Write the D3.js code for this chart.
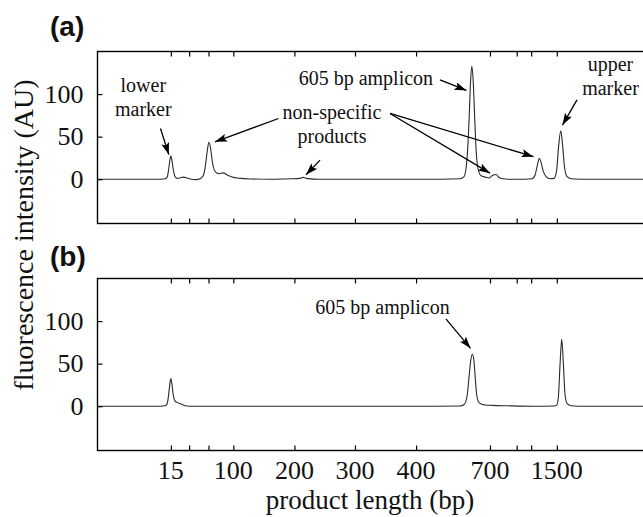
<!DOCTYPE html>
<html><head><meta charset="utf-8">
<script src="https://cdn.jsdelivr.net/npm/d3@7"></script>
<style>
html,body{margin:0;padding:0;background:#fff;}
svg{display:block;}
</style></head>
<body>
<svg id="chart" width="643" height="517"></svg>
<script>
// ---- data ----
const tickTimes  = [33.45, 36.8, 40.35, 44.9, 56.1, 67.2, 78.4, 91.95, 96.85, 99.5, 104.2];
const tickLabels = ["15", "", "", "100", "200", "300", "400", "700", "", "", "1500"];
const yTicks = [0, 50, 100];

const timesA  = [20, 24, 29.7, 31.5, 32.4, 32.8, 33.05, 33.3, 33.45, 33.6, 33.87, 34.24, 34.6, 35.15, 35.7, 36.44, 37.17, 38.09, 38.82, 39.37, 39.74, 40.1, 40.41, 40.74, 41.02, 41.57, 42.3, 43.03, 43.77, 44.68, 46.15, 47.98, 51.65, 55.31, 57.14, 57.75, 58.24, 60.81, 66.3, 75.5, 82.8, 86.47, 87.2, 87.75, 88.12, 88.39, 88.61, 88.85, 89.13, 89.4, 89.77, 90.32, 91.05, 91.78, 92.33, 93.07, 93.62, 94.35, 95.27, 96.55, 98.38, 99.67, 100.22, 100.58, 101.0, 101.31, 101.68, 102.23, 102.96, 103.7, 104.16, 104.52, 104.93, 105.26, 105.62, 106.08, 106.81, 108.46, 112.12, 120];
const valuesA = [0, 0, 0, 0, 0.5, 3, 12, 24, 27.5, 24, 12, 3, 1, 1.5, 2.5, 1.5, 0, -0.5, 0.5, 4, 14, 32, 43.5, 36, 22, 9, 6.5, 7.5, 5, 2.5, 1, 0.3, 0, 0.5, 1, 2.2, 1, 0, 0, 0, 0, 0.5, 3, 25, 70, 115, 132.5, 118, 75, 35, 12, 4, 2.5, 1.5, 4, 5.5, 2, 0.5, 0, 0, 0, 0.5, 5, 15, 24.5, 20, 10, 3, 0.5, 1, 10, 38, 57, 40, 14, 3, 0.5, 0, 0, 0];

const timesB  = [20, 29.7, 31.5, 32.4, 32.77, 33.05, 33.32, 33.45, 33.6, 33.87, 34.24, 34.6, 35.15, 35.7, 36.44, 37.17, 44, 60, 80, 86.47, 87.2, 87.75, 88.12, 88.45, 88.72, 88.98, 89.25, 89.5, 89.85, 90.32, 91.05, 92.33, 95.27, 100, 103.7, 104.16, 104.5, 104.8, 105.1, 105.4, 105.7, 106.1, 106.8, 108, 120];
const valuesB = [0, 0, 0, 0.5, 3, 14, 29, 32.5, 28, 14, 6, 4.5, 3, 1.5, 0.3, 0, 0, 0, 0, 0.3, 2, 12, 35, 55, 61, 55, 33, 14, 5, 2.5, 1.5, 1, 0.5, 0, 0.3, 1, 12, 50, 78.5, 50, 14, 3, 0.5, 0, 0];

// annotations (data coordinates: t = migration time, v = intensity)
const notesA = [
  {lines: ["lower", "marker"], t: 28.4, v: 102.5},
  {lines: ["605 bp amplicon"], t: 69.2, v: 110.8},
  {lines: ["non-specific", "products"], t: 62.99, v: 71.3},
  {lines: ["upper", "marker"], t: 114.04, v: 126.7}
];
const arrowsA = [
  {t0: 31.55, v0: 59.5, t1: 33.07, v1: 28.9},
  {t0: 53.18, v0: 71.3, t1: 41.54, v1: 43.9},
  {t0: 60.79, v0: 22.4, t1: 58.22, v1: 5.3},
  {t0: 82.78, v0: 116.6, t1: 87.64, v1: 104.3},
  {t0: 73.62, v0: 77.2, t1: 91.95, v1: 7.1},
  {t0: 73.62, v0: 77.2, t1: 99.93, v1: 26.5},
  {t0: 107.9, v0: 93.1, t1: 105.24, v1: 63.6}
];
const notesB = [
  {lines: ["605 bp amplicon"], t: 72.25, v: 108.3}
];
const arrowsB = [
  {t0: 83.87, v0: 102.5, t1: 88.38, v1: 68}
];

// ---- drawing ----
const SERIF = '"Liberation Serif"';
const SANS = '"Liberation Sans"';
const svg = d3.select("#chart");
const left = 97.5, right = 643;
const x = d3.scaleLinear().domain([20, 120]).range([left, right]);

const defs = svg.append("defs");
defs.append("marker").attr("id", "ah")
  .attr("viewBox", "0 0 12 8").attr("refX", 12).attr("refY", 4)
  .attr("markerWidth", 12).attr("markerHeight", 8)
  .attr("markerUnits", "userSpaceOnUse").attr("orient", "auto")
  .append("path").attr("d", "M0,0 L12,4 L0,8 L2.5,4 Z").attr("fill", "#000");

function panel(top, bottom, times, values, notes, arrows, label, labelY, showX) {
  const y = d3.scaleLinear().domain([-52, 150]).range([bottom, top]);
  const g = svg.append("g");

  const line = d3.line().x((d, i) => x(times[i])).y(d => y(d)).curve(d3.curveMonotoneX);
  g.append("path").datum(values).attr("d", line)
    .attr("fill", "none").attr("stroke", "#2a2a2a").attr("stroke-width", 1.1);

  g.append("rect").attr("x", left).attr("y", top)
    .attr("width", 650 - left).attr("height", bottom - top)
    .attr("fill", "none").attr("stroke", "#000").attr("stroke-width", 1.4);

  const xb = d3.axisBottom(x).tickValues(tickTimes).tickSize(-5).tickFormat("");
  g.append("g").attr("transform", `translate(0,${bottom})`).call(xb)
    .call(s => { s.select(".domain").remove(); s.selectAll("text").remove(); s.selectAll("line").attr("stroke-width", 1.2); });
  const xt = d3.axisTop(x).tickValues(tickTimes).tickSize(-5).tickFormat("");
  g.append("g").attr("transform", `translate(0,${top})`).call(xt)
    .call(s => { s.select(".domain").remove(); s.selectAll("text").remove(); s.selectAll("line").attr("stroke-width", 1.2); });

  if (showX) {
    g.append("g").selectAll("text").data(tickTimes.filter((d, i) => tickLabels[i] !== "")).join("text")
      .attr("x", d => x(d)).attr("y", 478.5).attr("text-anchor", "middle")
      .style("font-family", SERIF).style("font-size", "26px").attr("fill", "#111")
      .text(d => tickLabels[tickTimes.indexOf(d)]);
  }

  const ya = d3.axisLeft(y).tickValues(yTicks).tickSize(-5).tickPadding(14).tickFormat(d3.format("d"));
  g.append("g").attr("transform", `translate(${left},0)`).call(ya)
    .call(s => {
      s.select(".domain").remove();
      s.selectAll("line").attr("stroke-width", 1.2);
      s.selectAll("text").style("font-family", SERIF).style("font-size", "26px").attr("fill", "#111");
    });

  g.append("g").selectAll("line").data(arrows).join("line")
    .attr("x1", d => x(d.t0)).attr("y1", d => y(d.v0))
    .attr("x2", d => x(d.t1)).attr("y2", d => y(d.v1))
    .attr("stroke", "#000").attr("stroke-width", 1.3).attr("marker-end", "url(#ah)");

  notes.forEach(n => {
    const t = g.append("text").style("font-family", SERIF).style("font-size", "20px")
      .attr("fill", "#111").attr("text-anchor", "middle");
    n.lines.forEach((l, i) => {
      t.append("tspan").attr("x", x(n.t)).attr("y", y(n.v) + i * 24).text(l);
    });
  });

  svg.append("text").attr("x", 50).attr("y", labelY)
    .style("font-family", SANS).style("font-weight", "bold")
    .style("font-size", "28px").attr("fill", "#111").text(label);
}

panel(51.5, 223.5, timesA, valuesA, notesA, arrowsA, "(a)", 36, false);
panel(278.5, 450.5, timesB, valuesB, notesB, arrowsB, "(b)", 266, true);

svg.append("text").attr("transform", "translate(33,235) rotate(-90)")
  .attr("text-anchor", "middle").style("font-family", SERIF).style("font-size", "28px")
  .attr("fill", "#111").text("fluorescence intensity (AU)");
svg.append("text").attr("x", 370).attr("y", 508.5).attr("text-anchor", "middle")
  .style("font-family", SERIF).style("font-size", "27px").attr("fill", "#111")
  .text("product length (bp)");
</script>
</body></html>
